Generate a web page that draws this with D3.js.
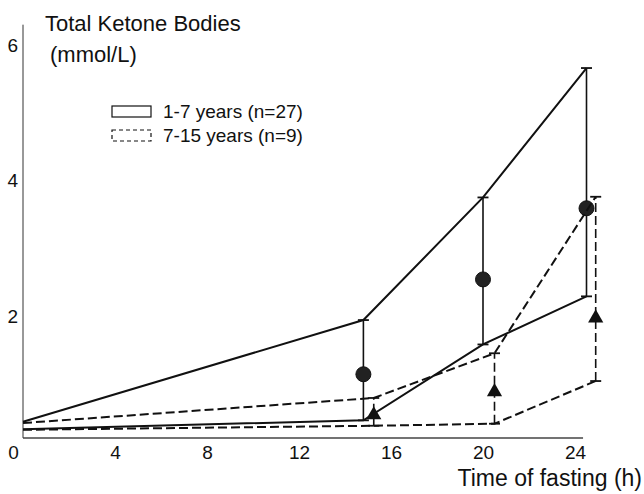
<html>
<head>
<script src="https://d3js.org/d3.v7.min.js"></script>
<style>
  body { margin: 0; background: #fff; }
  text { font-family: "Liberation Sans", Arial, sans-serif; fill: #111; }
</style>
</head>
<body>
<script>
// values
var groups = ["1-7 years (n=27)", "7-15 years (n=9)"];

var timesYoung = [0, 14.8, 20, 24.5];
var upperYoung = [0.44, 1.94, 3.75, 5.66];
var lowerYoung = [0.33, 0.46, 1.58, 2.29];
var meanYoung  = [null, 1.14, 2.54, 3.59];

var timesOld = [0, 15.25, 20.5, 24.9];
var upperOld = [0.42, 0.79, 1.45, 3.76];
var lowerOld = [0.32, 0.38, 0.41, 1.04];
var meanOld  = [null, 0.54, 0.88, 1.97];

var xTicks = [0, 4, 8, 12, 16, 20, 24];
var yTicks = [2, 4, 6];
var xAxisEnd = 24.35, xAxisAt = 0.2, yAxisTop = 6.3;

var svg = d3.select("body").append("svg").attr("width", 644).attr("height", 494);

var x = d3.scaleLinear().domain([0, 24]).range([23, 575]);
var y = d3.scaleLinear().domain([0, 6]).range([451.5, 45]);

// axes
svg.append("line")
  .attr("x1", x(0)).attr("x2", x(xAxisEnd))
  .attr("y1", y(xAxisAt)).attr("y2", y(xAxisAt))
  .attr("stroke", "#444").attr("stroke-width", 1.5);
svg.append("line")
  .attr("x1", x(0)).attr("x2", x(0))
  .attr("y1", y(xAxisAt)).attr("y2", y(yAxisTop))
  .attr("stroke", "#333").attr("stroke-width", 1);

var gx = svg.append("g")
  .attr("transform", "translate(0," + y(xAxisAt) + ")")
  .call(d3.axisBottom(x).tickValues(xTicks).tickFormat(d3.format("d")).tickSize(0).tickPadding(8));
gx.select(".domain").remove();
gx.selectAll("text").style("font-size", "19px").attr("fill", "#111")
  .attr("dx", function(d) { return d === 0 ? -10 : 0; });

var gy = svg.append("g")
  .attr("transform", "translate(" + x(0) + ",0)")
  .call(d3.axisLeft(y).tickValues(yTicks).tickFormat(d3.format("d")).tickSize(0).tickPadding(5));
gy.select(".domain").remove();
gy.selectAll("text").style("font-size", "19px").attr("fill", "#111");

// titles
svg.append("text").attr("x", 45).attr("y", 31).style("font-size", "22px").text("Total Ketone Bodies");
svg.append("text").attr("x", 50).attr("y", 62).style("font-size", "22px").text("(mmol/L)");
svg.append("text").attr("x", 642).attr("y", 486).attr("text-anchor", "end")
  .style("font-size", "23px").text("Time of fasting (h)");

// legend
var legend = svg.append("g");
groups.forEach(function(name, i) {
  var row = legend.append("g").attr("transform", "translate(112," + (106 + i * 24) + ")");
  row.append("rect").attr("width", 39).attr("height", 11)
    .attr("fill", "none").attr("stroke", "#111").attr("stroke-width", 1.2)
    .attr("stroke-dasharray", i === 0 ? null : "4,3");
  row.append("text").attr("x", 51).attr("y", 12).style("font-size", "19px").text(name);
});

var line = d3.line().x(function(d) { return x(d[0]); }).y(function(d) { return y(d[1]); });

function drawGroup(times, upper, lower, mean, dash, marker) {
  var g = svg.append("g");
  [upper, lower].forEach(function(vals) {
    g.append("path")
      .attr("d", line(times.map(function(t, i) { return [t, vals[i]]; })))
      .attr("fill", "none").attr("stroke", "#111").attr("stroke-width", 2)
      .attr("stroke-dasharray", dash);
  });
  times.forEach(function(t, i) {
    if (mean[i] === null) return;
    g.append("line")
      .attr("x1", x(t)).attr("x2", x(t)).attr("y1", y(lower[i])).attr("y2", y(upper[i]))
      .attr("stroke", "#111").attr("stroke-width", 1.6).attr("stroke-dasharray", dash);
    [lower[i], upper[i]].forEach(function(v) {
      g.append("line")
        .attr("x1", x(t) - 5.5).attr("x2", x(t) + 5.5).attr("y1", y(v)).attr("y2", y(v))
        .attr("stroke", "#111").attr("stroke-width", 1.8);
    });
    if (marker === "circle") {
      g.append("circle").attr("cx", x(t)).attr("cy", y(mean[i])).attr("r", 7.5)
        .attr("fill", "#222").attr("stroke", "#111");
    } else {
      g.append("path")
        .attr("d", d3.symbol().type(d3.symbolTriangle).size(100)())
        .attr("transform", "translate(" + x(t) + "," + y(mean[i]) + ")")
        .attr("fill", "#111");
    }
  });
}

drawGroup(timesYoung, upperYoung, lowerYoung, meanYoung, null, "circle");
drawGroup(timesOld, upperOld, lowerOld, meanOld, "9,4", "triangle");
</script>
</body>
</html>
